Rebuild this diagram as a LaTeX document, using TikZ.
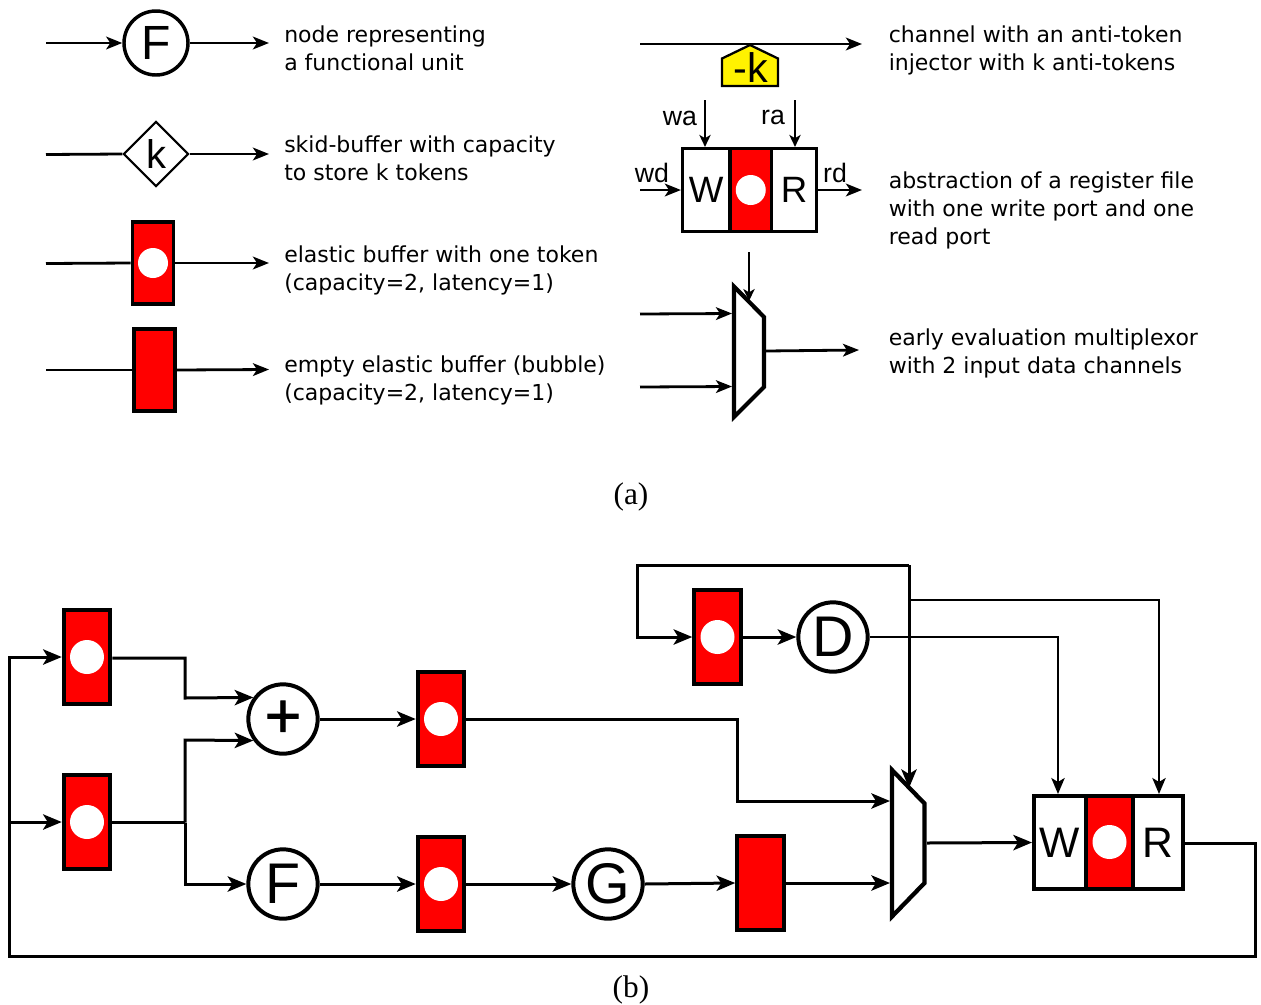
\documentclass[tikz,border=0pt]{standalone}
\usepackage{fontspec}
\usetikzlibrary{arrows.meta,shapes.geometric}
\setmainfont{Liberation Serif}
\newfontfamily\labf{Liberation Sans}
\newfontfamily\plusf[FakeBold=1.5]{Liberation Sans}
\newfontfamily\descf{DejaVu Sans}
\newcommand{\fs}[1]{\fontsize{#1}{#1}\selectfont}
\tikzset{
 conn/.style={line width=2.1pt,-{Stealth[length=12pt,width=9.5pt,inset=3pt]}},
 plainl/.style={line width=2.1pt},
 thin conn/.style={line width=1.5pt,-{Stealth[length=9pt,width=8.5pt,inset=2.5pt]}},
 big conn/.style={line width=2.25pt,-{Stealth[length=14pt,width=11.5pt,inset=3.5pt]}},
 med conn/.style={line width=1.8pt,-{Stealth[length=12pt,width=10pt,inset=3pt]}},
 big plainl/.style={line width=2.25pt},
 desc/.style={anchor=west,align=left,inner sep=0pt,font=\descf\fs{16.5},text depth=0pt},
 lab/.style={inner sep=0pt,font=\labf\fs{20}},
 captn/.style={inner sep=0pt,font=\rmfamily\fs{23.5}},
 fu/.style={circle,draw,fill=white,line width=2.6pt,minimum size=48pt,inner sep=0pt,font=\labf\fs{36}},
 bigfu/.style={circle,draw,fill=white,line width=3pt,minimum size=52pt,inner sep=0pt,font=\labf\fs{43}},
 skid/.style={diamond,draw,fill=white,line width=1.6pt,minimum size=49pt,inner sep=0pt,font=\labf\fs{30}},
 ebuf/.style={rectangle,draw,fill=red,line width=2.6pt,minimum width=31pt,minimum height=61.5pt,inner sep=0pt},
 bigebuf/.style={rectangle,draw,fill=red,line width=3pt,minimum width=34.9pt,minimum height=70pt,inner sep=0pt},
 tok/.style={circle,fill=white,minimum size=22.5pt,inner sep=0pt},
 bigtok/.style={circle,fill=white,minimum size=25.5pt,inner sep=0pt},
 rf/.style={rectangle,draw,line width=2.4pt,minimum height=62.25pt,inner sep=0pt,font=\labf\fs{27.5}},
 bigrf/.style={rectangle,draw,line width=3pt,minimum height=69.75pt,inner sep=0pt,font=\labf\fs{32}},
}
\begin{document}
\begin{tikzpicture}[x=0.75pt,y=-0.75pt]
\useasboundingbox (0,0) rectangle (1261,1004);

% ---------- legend, left column
\node[fu] (lf) at (156,43) {F};
\coordinate (lfin) at (46,43);
\coordinate (lfout) at (269,43);
\draw[conn] (lfin) -- (lf.west);
\draw[conn] (lf.east) -- (lfout);
\node[desc] (t1) at (284,48) {node representing\\[4.5pt]a functional unit};

\node[skid] (lk) at (156,154) {k};
\coordinate (lkin) at (46,154.5);
\coordinate (lkout) at (269,154);
\draw[plainl] (lkin) -- (lk.west);
\draw[conn] (lk.east) -- (lkout);
\node[desc] (t2) at (284,158) {skid-buffer with capacity\\[4.5pt]to store k tokens};

\node[ebuf] (le) at (153,263) {};
\node[tok] (let) at (153,263) {};
\coordinate (lein) at (46,263.5);
\coordinate (leout) at (269,263);
\draw[plainl] (lein) -- (le.west);
\draw[conn] (le.east) -- (leout);
\node[desc] (t3) at (284,268) {elastic buffer with one token\\[4.5pt](capacity=2, latency=1)};

\node[ebuf] (lb) at (154.5,370) {};
\coordinate (lbin) at (46,370);
\coordinate (lbout) at (269,369.5);
\draw[plainl] (lbin) -- (lb.west);
\draw[conn] (lb.east) -- (lbout);
\node[desc] (t4) at (284,378) {empty elastic buffer (bubble)\\[4.5pt](capacity=2, latency=1)};

% ---------- legend, right column
\coordinate (atin) at (640,44);
\coordinate (atout) at (862,44);
\draw[conn] (atin) -- (atout);
\draw[fill=yellow,line width=1.7pt,line join=miter] (750,45) -- (778,58.5) -- (778,86) -- (722,86) -- (722,58.5) -- cycle;
\node[inner sep=0pt,font=\labf\fs{31}] (atl) at (751,68) {-k};
\node[desc] (t5) at (888.5,48) {channel with an anti-token\\[4.5pt]injector with k anti-tokens};

\node[rf,fill=white,minimum width=35.6pt] (rw) at (706.25,190) {W};
\node[rf,fill=white,minimum width=33.75pt] (rr) at (794,190) {R};
\node[rf,fill=red,minimum width=31.1pt] (rt) at (750.75,190) {};
\node[tok] (rtt) at (750.75,190) {};
\coordinate (wain) at (705,100);
\coordinate (rain) at (795,100);
\coordinate (wdin) at (640,190);
\coordinate (rdout) at (862,190);
\draw[thin conn] (wain) -- (rw.north -| wain);
\draw[thin conn] (rain) -- (rr.north -| rain);
\draw[conn] (wdin) -- (rw.west);
\draw[conn] (rr.east) -- (rdout);
\node[lab] (lwa) at (680,118) {wa};
\node[lab] (lra) at (773,117) {ra};
\node[lab] (lwd) at (652,173) {wd};
\node[lab] (lrd) at (835,173) {rd};
\node[desc] (t6) at (888.5,208.5) {abstraction of a register file\\[4.5pt]with one write port and one\\[4.5pt]read port};

\draw[fill=white,line width=3.1pt,miter limit=6] (734,286.5) -- (764,317) -- (764,387) -- (734,417) -- cycle;
\coordinate (msin) at (749,252);
\coordinate (mssel) at (749,301);
\coordinate (mi1) at (640,314);
\coordinate (mi1e) at (732,313.5);
\coordinate (mi2) at (640,387);
\coordinate (mi2e) at (732,386.5);
\coordinate (mo) at (766,351);
\coordinate (moe) at (859,350);
\draw[thin conn] (msin) -- (mssel);
\draw[conn] (mi1) -- (mi1e);
\draw[conn] (mi2) -- (mi2e);
\draw[conn] (mo) -- (moe);
\node[desc] (t7) at (888.5,351) {early evaluation multiplexor\\[4.5pt]with 2 input data channels};

\node[captn] (capa) at (631,497) {(a)};
\node[captn] (capb) at (631,990) {(b)};

% ---------- circuit (b)
\node[bigebuf] (ea) at (87,657) {};
\node[bigtok] (eat) at (87,657) {};
\node[bigebuf] (eb) at (87,822) {};
\node[bigtok] (ebt) at (87,822) {};
\node[bigfu,font=\plusf\fs{47}] (plus) at (283,719) {+};
\node[bigfu] (ff) at (283,884) {F};
\node[bigebuf] (ec) at (441,719) {};
\node[bigtok] (ect) at (441,719) {};
\node[bigebuf] (ed) at (441,884) {};
\node[bigtok] (edt) at (441,884) {};
\node[bigfu] (gg) at (608,884) {G};
\node[bigebuf] (bub) at (760.5,883) {};
\node[bigebuf] (ee) at (717.5,637) {};
\node[bigtok] (eet) at (717.5,637) {};
\node[bigfu] (dd) at (833,637) {D};

\draw[fill=white,line width=3.2pt,miter limit=6] (892,770) -- (924.5,803.5) -- (924.5,883) -- (892,916.5) -- cycle;
\coordinate (m1) at (890,801);
\coordinate (m2) at (890,883);
\coordinate (mout) at (927,843);
\coordinate (msel) at (909,788);

\node[bigrf,fill=white,minimum width=39pt] (bw) at (1060,842.5) {W};
\node[bigrf,fill=white,minimum width=37.5pt] (br) at (1158,842.5) {R};
\node[bigrf,fill=red,minimum width=35.25pt] (bt) at (1109.5,842.5) {};
\node[bigtok] (btt) at (1109.5,842) {};

% connections
\coordinate (fbr) at (1255,843);
\coordinate (fbb) at (1255,956);
\coordinate (fbl) at (9,956);
\coordinate (fbt) at (9,657);
\coordinate (fbm) at (9,822);
\draw[big conn,line join=miter] (br.east |- fbr) -- (fbr) -- (fbb) -- (fbl) -- (fbt) -- (ea.west);
\draw[big conn] (fbm) -- (eb.west);

\coordinate (a1) at (185,658);
\coordinate (a2) at (185,698);
\coordinate (b1) at (185,822.5);
\coordinate (b2) at (185,740);
\coordinate (b3) at (185,884);
\draw[big conn] (ea.east |- a1) -- (a1) -- (a2) -- (plus.144);
\draw[big plainl] (eb.east |- b1) -- (b1);
\draw[big conn] (b1) -- (b2) -- (plus.216);
\draw[big conn] (b1) -- (b3) -- (ff.west);

\draw[big conn] (plus.east) -- (ec.west);
\draw[big conn] (ff.east) -- (ed.west);
\draw[big conn] (ed.east) -- (gg.west);
\draw[big conn] (gg.east) -- (bub.west);
\draw[big conn] (bub.east) -- (m2);
\coordinate (c1) at (737,719.5);
\coordinate (c2) at (737,801);
\draw[big conn] (ec.east |- c1) -- (c1) -- (c2) -- (m1);
\draw[big conn] (mout) -- (bw.west);
\draw[big conn] (ee.east) -- (dd.west);

\coordinate (l1) at (909,565);
\coordinate (l2) at (637,565);
\coordinate (l3) at (637,637);
\draw[big conn] (l1) -- (msel);
\draw[big conn] (l1) -- (l2) -- (l3) -- (ee.west);

\coordinate (d1) at (1058,637);
\coordinate (s0) at (909,600);
\coordinate (s1) at (1159,600);
\draw[med conn] (dd.east) -- (d1) -- (d1 |- bw.north);
\draw[med conn] (s0) -- (s1) -- (s1 |- br.north);
\end{tikzpicture}
\end{document}
